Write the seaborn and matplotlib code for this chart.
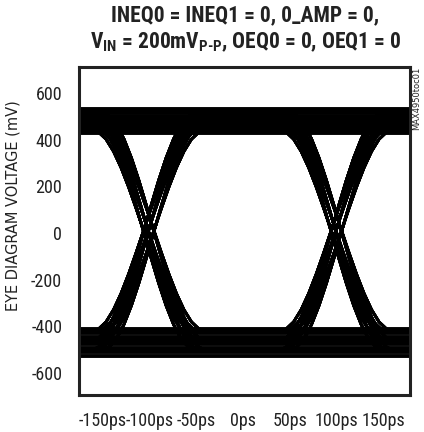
import matplotlib
matplotlib.use("Agg")
import matplotlib.pyplot as plt
import seaborn as sns
import pandas as pd

# values
band_high_mv = [428, 443, 458, 473, 488, 503, 518, 532]   # settled top rail
band_low_mv = [-410, -427, -444, -461, -478, -495, -512, -528]
edge_high_mv = [445, 480, 515]                             # rails of the switching traces
edge_low_mv = [-425, -465, -505]
jitter_ps = [-6, -1, 5]
crossings_ps = [-100, 100]
# shape of one edge around its crossing (fraction of the swing)
edge_ps = [-56, -48, -40, -32, -24, -16, -8, 0, 8, 16, 24, 32, 40, 48, 56]
edge_frac = [-1.0, -0.97, -0.90, -0.78, -0.62, -0.43, -0.22, 0.0,
             0.22, 0.43, 0.62, 0.78, 0.90, 0.97, 1.0]
bit_patterns = [(0, 0, 1), (0, 1, 0), (0, 1, 1),
                (1, 0, 0), (1, 0, 1), (1, 1, 0)]
xticks = [-150, -100, -50, 0, 50, 100, 150]
xtick_labels = ['-150ps', '-100ps', '-50ps', '0ps', '50ps', '100ps', '150ps']
yticks = [600, 400, 200, 0, -200, -400, -600]

sns.set_theme(style='white')
plt.rcParams['font.family'] = 'Roboto Condensed'
plt.rcParams['axes.unicode_minus'] = False
plt.rcParams['mathtext.fontset'] = 'custom'
plt.rcParams['mathtext.rm'] = 'Roboto Condensed:bold'
plt.rcParams['mathtext.bf'] = 'Roboto Condensed:bold'


def trace(lv, j1, j2):
    ts, vs = [-176], [lv[0]]
    for k, (c, j) in enumerate(zip(crossings_ps, [j1, j2])):
        a, b = lv[k], lv[k + 1]
        for e, f in zip(edge_ps, edge_frac):
            ts.append(c + j + e)
            vs.append((a + b) / 2 + (b - a) / 2 * f)
    ts.append(180)
    vs.append(lv[2])
    return ts, vs


band_rows, edge_rows = [], []
n = 0
for lv in band_high_mv + band_low_mv:
    for t in (-176, 180):
        band_rows.append((n, t, lv))
    n += 1
for bits in bit_patterns:
    for hi, lo in zip(edge_high_mv, edge_low_mv):
        lv = [hi if b else lo for b in bits]
        for j1 in jitter_ps:
            for j2 in jitter_ps:
                ts, vs = trace(lv, j1, j2)
                edge_rows += [(n, t, v) for t, v in zip(ts, vs)]
                n += 1
bands = pd.DataFrame(band_rows, columns=['trace', 'ps', 'mV'])
edges = pd.DataFrame(edge_rows, columns=['trace', 'ps', 'mV'])

fig = plt.figure(figsize=(4.24, 4.32), dpi=100)
ax = fig.add_axes([0.186, 0.086, 0.781, 0.759])
sns.lineplot(data=bands, x='ps', y='mV', units='trace', estimator=None, sort=False,
             color='black', lw=2.8, legend=False, ax=ax)
sns.lineplot(data=edges, x='ps', y='mV', units='trace', estimator=None, sort=False,
             color='black', lw=2.0, legend=False, ax=ax)

ax.set_xlim(-175, 178)
ax.set_ylim(-694, 711)
ax.set_xticks(xticks)
ax.set_xticklabels(xtick_labels)
ax.set_yticks(yticks)
ax.tick_params(length=0, pad=12, labelsize=13, colors='#222222')
ax.set_xlabel('')
ax.set_ylabel('')
for s in ax.spines.values():
    s.set_color('#222222')
    s.set_linewidth(2.2)

fig.text(0.578, 0.99, 'INEQ0 = INEQ1 = 0, 0_AMP = 0,', ha='center', va='top',
         fontsize=15.5, fontweight='bold', color='#222222')
fig.text(0.578, 0.928, r'V$_{\mathrm{IN}}$ = 200mV$_{\mathrm{P\text{-}P}}$, OEQ0 = 0, OEQ1 = 0',
         ha='center', va='top', fontsize=15.5, fontweight='bold', color='#222222')
# rotated labels in DejaVu Sans
fig.text(0.031, 0.523, 'EYE DIAGRAM VOLTAGE (mV)', rotation=90, ha='center', va='center',
         fontsize=10.5, color='#222222', family='DejaVu Sans')
fig.text(0.983, 0.773, 'MAX4950toc01', rotation=90, ha='center', va='center',
         fontsize=6, color='#222222', family='DejaVu Sans')

fig.savefig('out.png', dpi=100)
